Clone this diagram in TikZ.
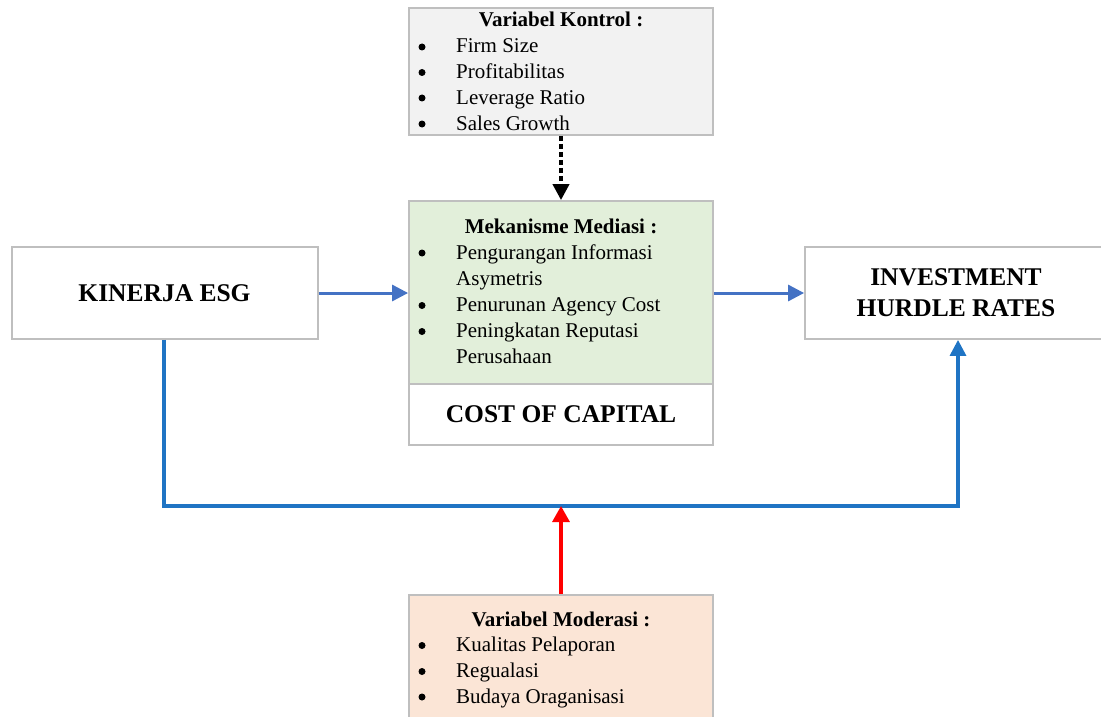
\documentclass[tikz,border=0pt]{standalone}
\usepackage{fontspec}
\setmainfont{Liberation Serif}
\usetikzlibrary{arrows.meta}
\definecolor{boxline}{HTML}{BFBFBF}
\definecolor{ctrlfill}{HTML}{F2F2F2}
\definecolor{medfill}{HTML}{E2EFDA}
\definecolor{modfill}{HTML}{FBE5D6}
\definecolor{arrblue}{HTML}{4472C4}
\definecolor{linkblue}{HTML}{1F74C4}
\definecolor{arrred}{HTML}{FF0000}
\begin{document}
\begin{tikzpicture}[x=1pt,y=-1pt,
  box/.style={draw=boxline,line width=1.8pt,inner sep=0pt},
  txt/.style={anchor=base west,inner sep=0pt,font=\fontsize{21}{25}\selectfont},
  ttl/.style={anchor=base,inner sep=0pt,font=\fontsize{21}{25}\selectfont\bfseries},
  big/.style={align=center,inner sep=0pt,font=\fontsize{25.5}{31}\selectfont\bfseries},
  bul/.style={circle,fill=black,inner sep=0pt,minimum size=7pt},
  bluearr/.style={draw=arrblue,line width=3pt,-{Triangle[length=16pt,width=16pt]}},
  linkarr/.style={draw=linkblue,line width=3.2pt,-{Triangle[length=16pt,width=16pt]}},
  redarr/.style={draw=arrred,line width=3.2pt,-{Triangle[length=16pt,width=17pt]}},
  dotarr/.style={draw=black,line width=3.8pt,dash pattern=on 5pt off 3pt,-{Triangle[length=16pt,width=16pt]}}
]
\useasboundingbox (0,0) rectangle (1101,717);

% boxes
\node[box,fill=ctrlfill,minimum width=304pt,minimum height=127pt] (ctrl) at (561,71.5) {};
\node[box,fill=medfill,minimum width=304pt,minimum height=183pt] (med) at (561,292.5) {};
\node[box,fill=white,minimum width=304pt,minimum height=61pt] (coc) at (561,414.5) {};
\node[box,fill=white,minimum width=306pt,minimum height=92pt] (kin) at (165,293) {};
\node[box,fill=white,minimum width=298pt,minimum height=92pt] (inv) at (954,293) {};
\node[box,fill=modfill,minimum width=304pt,minimum height=130pt] (mod) at (561,660) {};

% control texts
\node[ttl] (ct) at (561,27) {Variabel Kontrol :};
\node[bul] (cb1) at (422,47) {}; \node[txt] (c1) at (456,53) {Firm Size};
\node[bul] (cb2) at (422,72.5) {}; \node[txt] (c2) at (456,78.5) {Profitabilitas};
\node[bul] (cb3) at (422,98) {}; \node[txt] (c3) at (456,104) {Leverage Ratio};
\node[bul] (cb4) at (422,124) {}; \node[txt] (c4) at (456,130) {Sales Growth};

% mediation texts
\node[ttl] (mt) at (561,233) {Mekanisme Mediasi :};
\node[bul] (mb1) at (422,253) {}; \node[txt] (m1) at (456,259) {Pengurangan Informasi};
\node[txt] (m1b) at (456,285) {Asymetris};
\node[bul] (mb2) at (422,305.5) {}; \node[txt] (m2) at (456,311.5) {Penurunan Agency Cost};
\node[bul] (mb3) at (422,331.5) {}; \node[txt] (m3) at (456,337.5) {Peningkatan Reputasi};
\node[txt] (m3b) at (456,363) {Perusahaan};
\node[big] (coct) at (561,414) {COST OF CAPITAL};

% main boxes text
\node[big] (kint) at (164.5,293) {KINERJA ESG};
\node[big] (invt) at (956,293) {INVESTMENT\\HURDLE RATES};

% moderation texts
\node[ttl] (dt) at (561,626) {Variabel Moderasi :};
\node[bul] (db1) at (422,645.5) {}; \node[txt] (d1) at (456,651.5) {Kualitas Pelaporan};
\node[bul] (db2) at (422,671.5) {}; \node[txt] (d2) at (456,677.5) {Regualasi};
\node[bul] (db3) at (422,697) {}; \node[txt] (d3) at (456,703) {Budaya Oraganisasi};

% connectors
\coordinate (cL) at (164,506);
\coordinate (cM) at (561,506);
\coordinate (cR) at (958,506);
\draw[dotarr] (ctrl.south) -- (med.north);
\draw[bluearr] (kin.east) -- (kin.east -| med.west);
\draw[bluearr] (med.east |- inv.west) -- (inv.west);
\draw[linkarr] (kin.south -| cL) -- (cL) -- (cR) -- (cR |- inv.south);
\draw[redarr] (mod.north) -- (cM);
\end{tikzpicture}
\end{document}
